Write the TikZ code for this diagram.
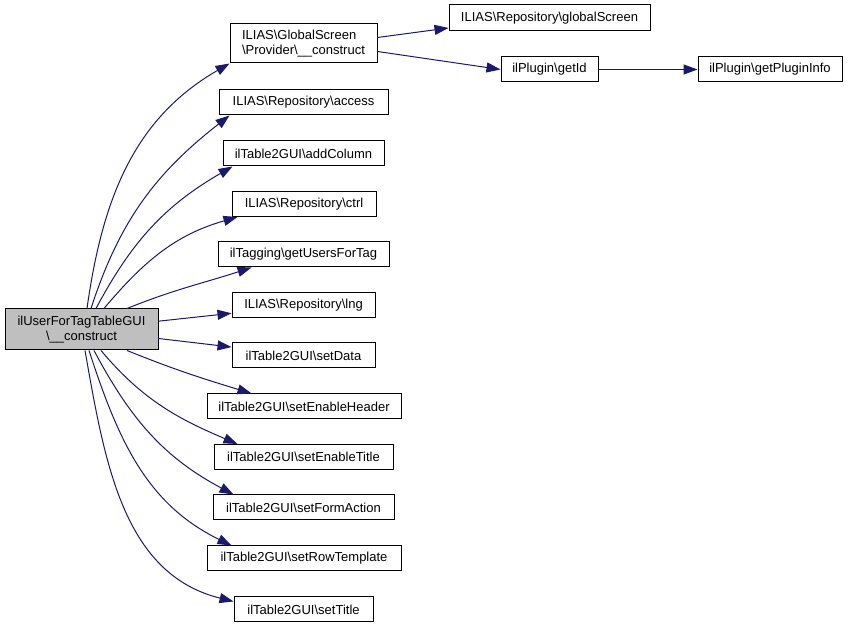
\documentclass[tikz,border=0pt]{standalone}
\usepackage{fontspec}
\setmainfont{Liberation Sans}
\usetikzlibrary{arrows.meta}
\definecolor{callblue}{HTML}{191970}
\definecolor{rootgray}{HTML}{BFBFBF}
\newcommand{\bs}{\textbackslash}

\begin{document}
\begin{tikzpicture}[x=1pt, y=1pt,
    function/.style ={rectangle, draw=black, line width=1pt, minimum height=25pt,
        inner xsep=4pt, inner ysep=2pt, font=\fontsize{13}{15}\selectfont},
    call/.style ={draw=callblue, line width=1pt, -{Triangle[length=14pt, width=10pt, fill=callblue]}}]
   \useasboundingbox (0,0) rectangle (848,628);
   \node[function, fill=rootgray, minimum width=153pt, minimum height=41pt, align=center] (root) at (81.5,298.5) {ilUserForTagTableGUI\\\bs\_\_construct};
   \node[function, minimum width=147pt, minimum height=39pt, align=left] (provider) at (303.5,584.5) {ILIAS\bs GlobalScreen\\\bs Provider\bs\_\_construct};
   \node[function, minimum width=169pt] (access) at (303.5,525.5) {ILIAS\bs Repository\bs access};
   \node[function, minimum width=161pt] (addcolumn) at (303.5,474.5) {ilTable2GUI\bs addColumn};
   \node[function, minimum width=144pt] (ctrl) at (304,424) {ILIAS\bs Repository\bs ctrl};
   \node[function, minimum width=171pt] (users) at (303.5,373.5) {ilTagging\bs getUsersForTag};
   \node[function, minimum width=143pt] (lng) at (303.5,322.5) {ILIAS\bs Repository\bs lng};
   \node[function, minimum width=143pt] (setdata) at (303.5,272.5) {ilTable2GUI\bs setData};
   \node[function, minimum width=194pt] (header) at (304,221.5) {ilTable2GUI\bs setEnableHeader};
   \node[function, minimum width=179pt] (enabletitle) at (303.5,171) {ilTable2GUI\bs setEnableTitle};
   \node[function, minimum width=181pt] (formaction) at (303.5,120.5) {ilTable2GUI\bs setFormAction};
   \node[function, minimum width=194pt] (rowtemplate) at (304,69.5) {ilTable2GUI\bs setRowTemplate};
   \node[function, minimum width=139pt] (settitle) at (303.5,18.5) {ilTable2GUI\bs setTitle};
   \node[function, minimum width=201pt, minimum height=26pt] (globalscreen) at (549.5,610) {ILIAS\bs Repository\bs globalScreen};
   \node[function, minimum width=97pt] (getid) at (549.5,558.5) {ilPlugin\bs getId};
   \node[function, minimum width=144pt] (plugininfo) at (770,558.5) {ilPlugin\bs getPluginInfo};
   \draw[call] ([xshift=5.5pt]root.north) to[out=82, in=210] (provider.south west);
   \draw[call] ([xshift=9.5pt]root.north) to[out=72, in=218] ([xshift=11pt]access.south west);
   \draw[call] ([xshift=14.5pt]root.north) to[out=62, in=210] ([xshift=10pt]addcolumn.south west);
   \draw[call] ([xshift=22.5pt]root.north) to[out=50, in=196] ([xshift=6pt]ctrl.south west);
   \draw[call] ([xshift=45.5pt]root.north) to[out=22, in=198] ([xshift=34pt]users.south west);
   \draw[call] (root) -- (lng);
   \draw[call] (root) -- (setdata);
   \draw[call] ([xshift=45.5pt]root.south) to[out=-22, in=163] ([xshift=45pt]header.north west);
   \draw[call] ([xshift=19.5pt]root.south) to[out=-50, in=157] ([xshift=24pt]enabletitle.north west);
   \draw[call] ([xshift=12.5pt]root.south) to[out=-62, in=152] ([xshift=21pt]formaction.north west);
   \draw[call] ([xshift=7.5pt]root.south) to[out=-72, in=154] ([xshift=25pt]rowtemplate.north west);
   \draw[call] ([xshift=3.5pt]root.south) to[out=-80, in=166] ([yshift=-5pt]settitle.north west);
   \draw[call] ([yshift=6pt]provider.east) -- ([yshift=-10pt]globalscreen.west);
   \draw[call] ([yshift=-8pt]provider.east) -- (getid.west);
   \draw[call] (getid) -- (plugininfo);
 \end{tikzpicture}
\end{document}
